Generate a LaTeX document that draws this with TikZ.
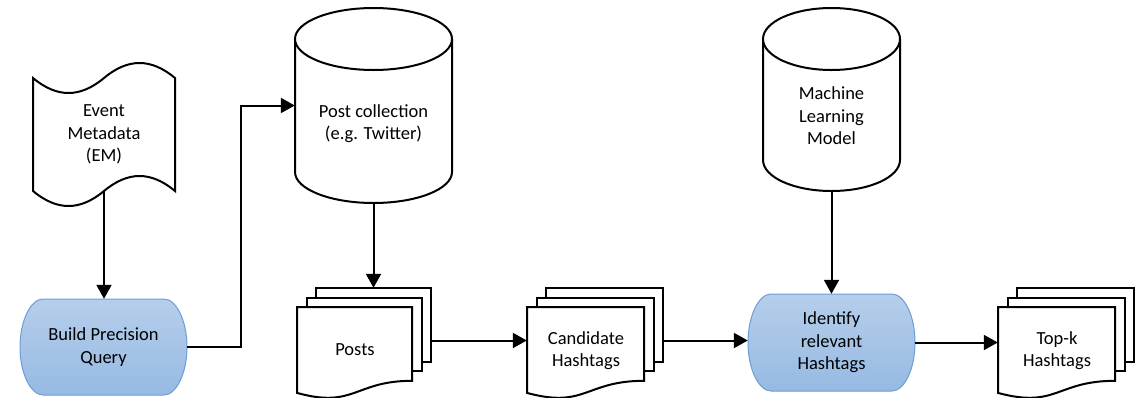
\documentclass[tikz,border=0pt]{standalone}
\usepackage{fontspec}
\setmainfont{Carlito}
\usetikzlibrary{arrows.meta}
\definecolor{blueA}{RGB}{182,206,235}
\definecolor{blueB}{RGB}{150,186,227}
\definecolor{blueEdge}{RGB}{108,158,214}
\tikzset{
  shapeline/.style={draw=black, fill=white, line width=2pt},
  arr/.style={draw=black, line width=2pt, -{Triangle[length=14pt,width=15pt]}},
  txt/.style={align=center, inner sep=0pt, font=\fontsize{18.5}{22.5}\selectfont},
  procfill/.style={top color=blueA, bottom color=blueB, draw=blueEdge, line width=1pt},
  pics/docstack/.style={code={
    \draw[shapeline] (19,-19) rectangle (#1+19,54.8);
    \draw[shapeline] (9.5,-9.5) rectangle (#1+9.5,64.3);
    \draw[shapeline] (0,0) -- (#1,0) -- (#1,73.8) .. controls (#1/2,73.8) and (#1/2,101.8) .. (0,85.9) -- cycle;
  }}
}
\begin{document}
\begin{tikzpicture}[x=1pt,y=-1pt]
\useasboundingbox (0,0) rectangle (1147,397);

% Event Metadata punched tape
\draw[shapeline] (33,78) .. controls (57,98) and (80,98) .. (104,78) .. controls (128,58) and (151,58) .. (175,78)
  -- (175,191) .. controls (151,171) and (128,171) .. (104,191) .. controls (80,211) and (57,211) .. (33,191) -- cycle;
\node[txt, minimum width=142pt, minimum height=113pt] (em) at (104,134.5) {Event\\Metadata\\(EM)};

% Build Precision Query
\path[procfill] (43,299) .. controls (30.8,299) and (20,320.5) .. (20,347) .. controls (20,373.5) and (30.8,395) .. (43,395)
  -- (164,395) .. controls (176.2,395) and (187,373.5) .. (187,347) .. controls (187,320.5) and (176.2,299) .. (164,299) -- cycle;
\node[txt, minimum width=167pt, minimum height=96pt] (bpq) at (103.5,347) {Build Precision\\Query};

% Post collection cylinder
\draw[shapeline] (295,39) -- (295,172) arc[start angle=180, end angle=360, x radius=78.5pt, y radius=31pt] -- (452,39);
\draw[shapeline] (373.5,39) ellipse [x radius=78.5pt, y radius=31pt];
\node[inner sep=0pt, minimum width=157pt, minimum height=195pt] (pc) at (373.5,105.5) {};
\node[txt] (pct) at (373.5,123.5) {Post collection\\(e.g. Twitter)};

% Machine Learning Model cylinder
\draw[shapeline] (763,39) -- (763,160) arc[start angle=180, end angle=360, x radius=68.5pt, y radius=31pt] -- (900,39);
\draw[shapeline] (831.5,39) ellipse [x radius=68.5pt, y radius=31pt];
\node[inner sep=0pt, minimum width=137pt, minimum height=183pt] (ml) at (831.5,99.5) {};
\node[txt] (mlt) at (831.5,116) {Machine\\Learning\\Model};

% Identify relevant Hashtags
\path[procfill] (771,294) .. controls (758.8,294) and (748,315.7) .. (748,342.5) .. controls (748,369.3) and (758.8,391) .. (771,391)
  -- (892,391) .. controls (904.2,391) and (915,369.3) .. (915,342.5) .. controls (915,315.7) and (904.2,294) .. (892,294) -- cycle;
\node[txt, minimum width=167pt, minimum height=97pt] (idf) at (831.5,342.5) {Identify\\relevant\\Hashtags};

% Document stacks
\pic at (297,307) {docstack=115};
\node[inner sep=0pt, minimum width=134pt, minimum height=105pt] (posts) at (364,340.5) {};
\node[txt] (postst) at (355,350) {Posts};

\pic at (527,307) {docstack=117};
\node[inner sep=0pt, minimum width=136pt, minimum height=105pt] (cand) at (595,340.5) {};
\node[txt] (candt) at (586,350.5) {Candidate\\Hashtags};

\pic at (998,307) {docstack=117};
\node[inner sep=0pt, minimum width=136pt, minimum height=105pt] (topk) at (1066,340.5) {};
\node[txt] (topkt) at (1057,350.5) {Top-k\\Hashtags};

% Connectors
\draw[arr] (em.south) -- (em.south |- bpq.north);
\draw[arr] (bpq.east) -- ++(54,0) |- (pc.west);
\draw[arr] (pc.south) -- (pc.south |- posts.north);
\draw[arr] (posts.east) -- (posts.east -| cand.west);
\draw[arr] (cand.east) -- (cand.east -| idf.west);
\draw[arr] (ml.south) -- (idf.north);
\draw[arr] (idf.east) -- (idf.east -| topk.west);
\end{tikzpicture}
\end{document}
